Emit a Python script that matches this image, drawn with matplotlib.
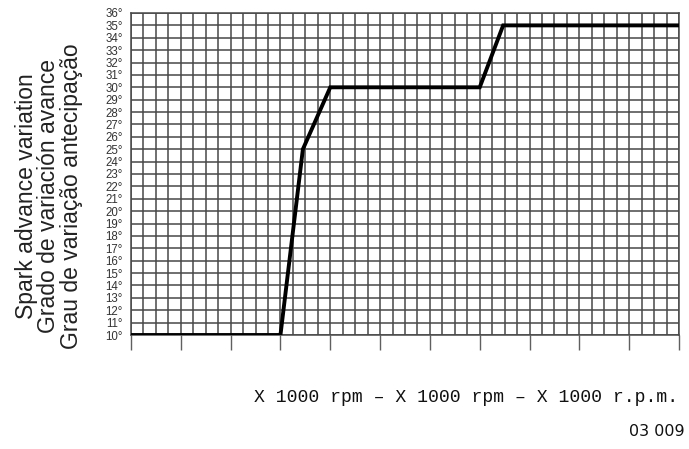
import numpy as np
import matplotlib
matplotlib.use("Agg")
import matplotlib.pyplot as plt
from matplotlib.ticker import MultipleLocator

# curve (x in 1000 rpm, y in degrees)
rpm = [0, 3, 3.45, 4, 7, 7.47, 11]
advance = [10, 10, 25, 30, 30, 35, 35]

deg_ticks = list(range(10, 37))
deg_labels = [f"{d}°" for d in deg_ticks]

ylabel_lines = [
    "Spark advance variation",
    "Grado de variación avance",
    "Grau de variação antecipação",
]
xlabel_text = "X 1000 rpm – X 1000 rpm – X 1000 r.p.m."
ref_code = "03 009"

fig = plt.figure(figsize=(6.89, 4.49), dpi=100)
ax = fig.add_axes([131 / 689, 1 - 335 / 449, 548 / 689, 322 / 449])

ax.set_xlim(0, 11)
ax.set_ylim(10, 36)

# graph-paper grid
ax.xaxis.set_major_locator(MultipleLocator(1))
ax.xaxis.set_minor_locator(MultipleLocator(0.25))
ax.set_yticks(deg_ticks)
ax.set_yticklabels(deg_labels)
ax.grid(True, which="both", color="#484848", linewidth=1.1)
ax.set_axisbelow(True)

ax.plot(rpm, advance, color="black", linewidth=2.8, solid_joinstyle="miter", zorder=5)

for s in ["left", "top", "right", "bottom"]:
    ax.spines[s].set_color("#484848")
    ax.spines[s].set_linewidth(1.1)

ax.tick_params(axis="x", which="major", direction="out", length=11, width=1.0,
               color="#606060", labelbottom=False)
ax.tick_params(axis="x", which="minor", length=0)
ax.tick_params(axis="y", length=0, pad=6, labelsize=8.3, labelcolor="#333333")
for lab in ax.get_yticklabels():
    lab.set_family("Liberation Sans")

fig.text(0.071, 0.563, "\n".join(ylabel_lines), rotation=90, ha="center", va="center",
         multialignment="center", fontsize=16.5, family="Liberation Sans",
         color="#222222", linespacing=0.98)

fig.text(254 / 689, 1 - 398 / 449, xlabel_text, ha="left", va="center",
         fontsize=13.1, family="Liberation Mono", color="#111111")
fig.text(629 / 689, 1 - 432 / 449, ref_code, ha="left", va="center",
         fontsize=11.5, family="DejaVu Sans", color="#111111")

fig.savefig("out.png", dpi=100)
